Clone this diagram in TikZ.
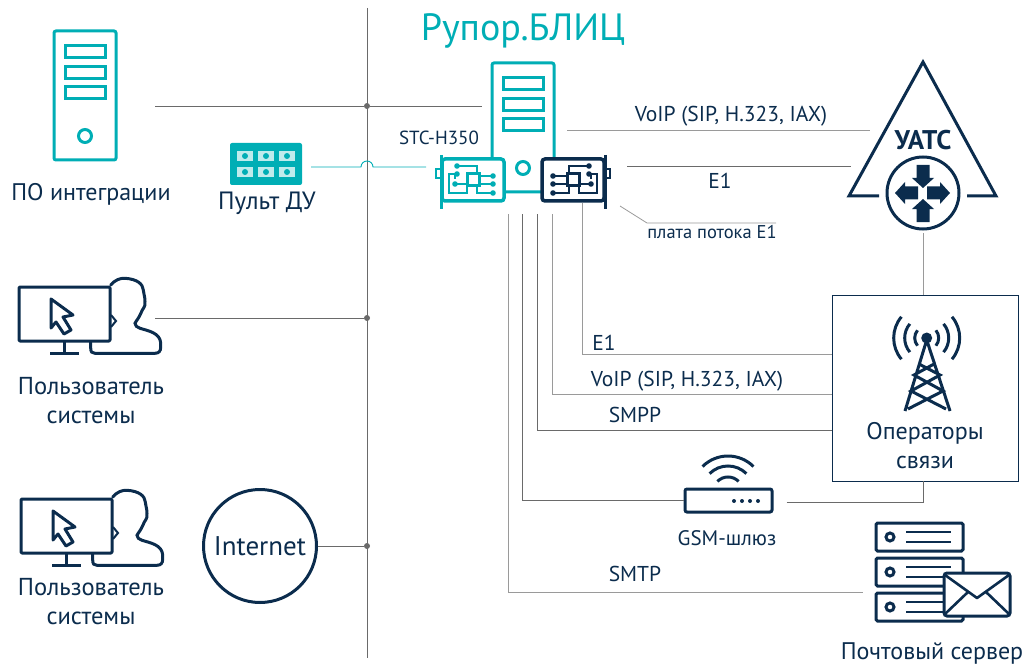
\documentclass[tikz,border=0pt]{standalone}
\usepackage{fontspec}
\setmainfont{PT Sans}
\usetikzlibrary{calc}
\definecolor{navy}{HTML}{0B2C4D}
\definecolor{teal2}{HTML}{00AEB5}
\definecolor{wire}{HTML}{6A6A6A}
\definecolor{wirelight}{HTML}{9A9A9A}
\newcommand{\fsize}[1]{\fontsize{#1}{#1}\selectfont}
\tikzset{
  txt/.style={text=navy, inner sep=0pt, font=\fsize{#1}},
  busdot/.style={circle, fill=wire, inner sep=0pt, minimum size=6pt},
  conn/.style={draw=wire, line width=0.9pt},
  connlight/.style={draw=wirelight, line width=1pt},
  pics/towericon/.style={code={
    \draw[#1, line width=3pt, rounded corners=2pt] (0,0) rectangle (62,129);
    \foreach \yy in {15,36,56} {\draw[#1, line width=3pt] (11,\yy) rectangle (51,\yy+12);}
    \draw[#1, line width=3pt] (31,105) circle (6.5);
  }},
  pics/usericon/.style={code={
    \draw[navy, line width=3pt, line join=round, rounded corners=1pt] (0,0) rectangle (91,54);
    \draw[navy, line width=3pt] (45,54) -- (45,66) (31,66) -- (60,66);
    \draw[navy, line width=3pt, line join=round] (32,12) -- (54,28) -- (44,30) -- (52,43) -- (45,47) -- (37,35) -- (32,41) -- cycle;
    \draw[navy, line width=3pt, line cap=round] (91.7,-2) .. controls (96,-7) and (101,-9) .. (106,-8.7)
      .. controls (118,-8) and (124,-3) .. (124.3,3) .. controls (125,8) and (126,10) .. (126,14.7)
      .. controls (127,20) and (123,22) .. (122,26) .. controls (120,31) and (117,34) .. (116,36.3)
      .. controls (116,39) and (118,40) .. (121,41.3) .. controls (130,44) and (141,46) .. (141.7,56)
      -- (141.7,60) .. controls (141.7,64) and (140,66.3) .. (136,66.3) -- (76,66.3)
      .. controls (73,66.3) and (71.7,65) .. (71.7,61) -- (71.7,55);
    \draw[navy, line width=2pt] (92,28) -- (97,34) -- (92,40);
  }},
  pics/cardicon/.style={code={
    \draw[#1, line width=3.5pt, rounded corners=3pt, fill=white] (-31,-21) rectangle (31,21);
    \draw[#1, line width=3pt] (-32,-25) -- (-32,29);
    \draw[#1, line width=2.5pt] (-32,-11) -- (-37,-11) -- (-37,-2) -- (-32,-2);
    \draw[#1, line width=2.4pt] (-16,-14) -- (4,-14) -- (4,-6)
      (-16,-6) -- (-24,-6) -- (-24,13) -- (-6,13) -- (-6,6)
      (-18,4) -- (-6,4) (-18,-6) -- (-18,-1) (6,-4) -- (19,-4) (6,4) -- (19,4)
      (4,6) -- (4,13) -- (19,13);
    \draw[#1, line width=3pt] (0,0) ++(-6,-6) rectangle ++(12,12);
    \foreach \dx/\dy in {-16/-14, -16/-6, -18/4, 20/-4, 20/4, 20/13} {\fill[#1] (\dx,\dy) circle (2.8);}
  }},
  pics/dnarrow/.style={code={
    \fill[navy] (-6.5,-23) -- (6.5,-23) -- (6.5,-10) -- (11,-10) -- (0,0) -- (-11,-10) -- (-6.5,-10) -- cycle;
  }}
}
\begin{document}
\begin{tikzpicture}[x=1pt, y=-1pt]
  \useasboundingbox (0,0) rectangle (1026,666);

  % connection points
  \coordinate (busTop) at (367,8);
  \coordinate (busBot) at (367,658);
  \node[busdot] (busA) at (367,106) {};
  \node[busdot] (busB) at (367,318) {};
  \node[busdot] (busC) at (367,546) {};
  \coordinate (intEnd) at (155,106);
  \coordinate (srvEnd) at (482,106);
  \coordinate (userEnd) at (155,318);
  \coordinate (pultEnd) at (311,167);
  \coordinate (cardEnd) at (426,167);

  % left column
  \pic at (54,31) {towericon=teal2};
  \node[txt=24] (integr) at (91,194) {ПО интеграции};
  \pic at (19,287) {usericon};
  \node[txt=24.5, align=center, text width=170pt, execute at begin node=\setlength{\baselineskip}{29pt}] (userA) at (91,401) {Пользователь\\системы};
  \pic at (21,499) {usericon};
  \node[txt=24.5, align=center, text width=170pt, execute at begin node=\setlength{\baselineskip}{29pt}] (userB) at (91,602) {Пользователь\\системы};
  \node[circle, draw=navy, line width=3pt, minimum size=113pt, inner sep=0pt, txt=27] (inet) at (260,546) {Internet};

  % remote control
  \node[fill=teal2, rounded corners=2pt, minimum width=72pt, minimum height=42pt, inner sep=0pt] (pult) at (266,164) {};
  \foreach \cx in {245,266,287} {
    \foreach \cy in {156,172} {
      \node[fill=white!75!teal2, draw=teal2, minimum width=17pt, minimum height=11pt, inner sep=0pt] (cell) at (\cx,\cy) {};
      \fill[teal2] (\cx,\cy) circle (3);
    }
  }
  \node[txt=25] (pultTxt) at (267,203) {Пульт ДУ};

  % bus and its branches
  \draw[conn, draw=wire] (busTop) -- (busBot);
  \draw[conn] (intEnd) -- (busA) -- (srvEnd);
  \draw[conn] (userEnd) -- (busB);
  \draw[conn] (inet) -- (busC);
  \draw[draw=teal2, line width=0.9pt] (pultEnd) -- (361,167) arc (180:360:6) -- (cardEnd);

  % main server
  \node[txt=38, text=teal2] (title) at (523,31) {Рупор.БЛИЦ};
  \pic at (492,63) {towericon=teal2};
  \pic at (473,180) {cardicon=teal2};
  \pic[xscale=-1] at (573,180) {cardicon=navy};
  \node[txt=19] (stc) at (439,138) {STC-H350};

  % UATS
  \coordinate (uaL) at (879,196);
  \coordinate (uaR) at (967,196);
  \draw[navy, line width=3pt, line join=miter] (uaL) -- (849,196) -- (923,62) -- (996,196) -- (uaR);
  \node[circle, draw=navy, line width=3pt, minimum size=72pt, inner sep=0pt] (uats) at (923,193) {};
  \node[txt=27, font=\fsize{27}\bfseries] (uatsTxt) at (923,140) {УАТС};
  \pic at (923,188) {dnarrow};
  \pic[rotate=180] at (923,199) {dnarrow};
  \pic[rotate=-90] at (895,193) {dnarrow};
  \pic[rotate=90] at (950,193) {dnarrow};

  % operators
  \node[draw=navy, line width=0.9pt, minimum width=186pt, minimum height=186pt, inner sep=0pt] (oper) at (925,388) {};
  \fill[navy] (926.7,338) circle (5.5) coordinate (mast);
  \foreach \rr in {12,22,33} {
    \draw[navy, line width=3pt] (mast) ++(-40:\rr) arc (-40:40:\rr);
    \draw[navy, line width=3pt] (mast) ++(140:\rr) arc (140:220:\rr);
  }
  \draw[navy, line width=3pt] (926.7,340) -- (905,411) (926.7,340) -- (950,411)
    (919,364) -- (940,375) -- (911,391) -- (946,409)
    (934,364) -- (914,375) -- (943,391) -- (908,409);
  \node[txt=24] (operA) at (925,433) {Операторы};
  \node[txt=24] (operB) at (925,462) {связи};

  % gsm gateway
  \node[draw=navy, line width=3pt, rounded corners=2pt, minimum width=87pt, minimum height=23pt, inner sep=0pt] (gsm) at (728.5,500.5) {};
  \foreach \dx in {734,742,750,758} {\fill[navy] (\dx,501) circle (2);}
  \foreach \rr in {15,26,36} {
    \draw[navy, line width=3pt] (728,492) ++(-135:\rr) arc (-135:-45:\rr);
  }
  \node[txt=21] (gsmTxt) at (727,538) {GSM-шлюз};

  % mail server
  \foreach \yy in {523,558,593} {
    \draw[navy, line width=3pt, rounded corners=1.5pt] (876,\yy) rectangle (963,\yy+28);
    \draw[navy, line width=3pt] (890,\yy+14) circle (4);
    \draw[navy, line width=2.6pt] (906,\yy+9) -- (951,\yy+9) (906,\yy+19) -- (951,\yy+19);
  }
  \node[draw=navy, fill=white, line width=3pt, rounded corners=3pt, minimum width=66pt, minimum height=43pt, inner sep=0pt] (mail) at (977,594.5) {};
  \draw[navy, line width=2.6pt, line join=round] (945,575) -- (977,598) -- (1009,575)
    (945,614) -- (968,592) (1009,614) -- (986,592);
  \node[txt=24] (mailTxt) at (932,653) {Почтовый сервер};

  % links of the main server
  \coordinate (voipA) at (567,131);
  \coordinate (voipB) at (870,131);
  \coordinate (eA) at (627,166);
  \coordinate (eB) at (851,166);
  \draw[connlight] (voipA) -- (voipB);
  \draw[conn] (eA) -- (eB);
  \draw[draw=wirelight, line width=0.8pt] (620,206) -- (647,223) -- (776,223);
  \node[txt=21.5] at (731,116) {VoIP (SIP, H.323, IAX)};
  \node[txt=21.5] at (720,181) {E1};
  \node[txt=18.5] at (712,232) {плата потока Е1};

  \draw[connlight] (582,203) |- (oper.west |- 0,354);
  \draw[connlight] (552,214) |- (oper.west |- 0,394);
  \draw[conn] (537,214) |- (oper.west |- 0,430);
  \draw[conn] (522,214) |- (gsm.west);
  \draw[conn] (gsm.east) ++(13,2) -| (oper.south -| 923,0);
  \draw[connlight] (508,214) |- (863,592);
  \draw[connlight] (923,233) -- (923,295);
  \node[txt=21.5] at (604,343) {E1};
  \node[txt=21.5] at (687,381) {VoIP (SIP, H.323, IAX)};
  \node[txt=21.5] at (635,415) {SMPP};
  \node[txt=21.5] at (635,574) {SMTP};
\end{tikzpicture}
\end{document}
